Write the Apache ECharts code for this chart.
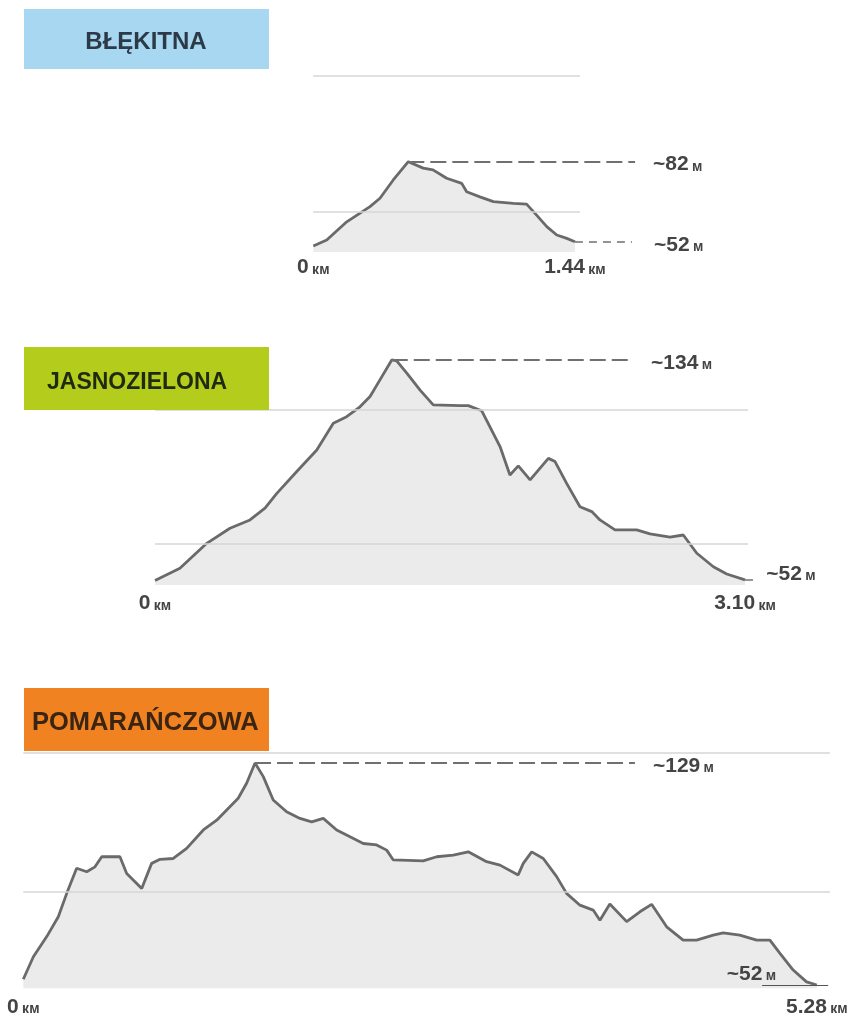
<!DOCTYPE html>
<html><head><meta charset="utf-8">
<script src="https://cdn.jsdelivr.net/npm/echarts@6/dist/echarts.min.js"></script>
<style>html,body{margin:0;padding:0;background:#fff}#c{width:865px;height:1021px}</style>
</head><body><div id="c"></div>
<script>
// ---- data ----
const trailNames = ['BŁĘKITNA', 'JASNOZIELONA', 'POMARAŃCZOWA'];
const trailLengths = [1.44, 3.10, 5.28];
const peakLabels = ['~82', '~134', '~129'];
const endLabels = ['~52', '~52', '~52'];

const blueKm = [0, 0.074, 0.184, 0.312, 0.367, 0.440, 0.523, 0.605, 0.659, 0.734, 0.817, 0.844, 0.917, 0.991, 1.101, 1.174, 1.229, 1.285, 1.340, 1.395, 1.44];
const blueM  = [52, 54.1, 60.6, 66.0, 69.0, 75.5, 82, 79.7, 79.1, 76.1, 74.3, 71.3, 69.5, 67.8, 67.2, 66.9, 63.0, 58.9, 55.9, 54.7, 53.5];

const greenKm = [0, 0.131, 0.272, 0.394, 0.499, 0.578, 0.640, 0.745, 0.850, 0.937, 1.007, 1.077, 1.130, 1.182, 1.244, 1.270, 1.323, 1.393, 1.462, 1.603, 1.646, 1.717, 1.813, 1.865, 1.909, 1.971, 2.067, 2.102, 2.163, 2.233, 2.295, 2.338, 2.417, 2.531, 2.601, 2.706, 2.776, 2.847, 2.934, 3.004, 3.10];
const greenM  = [52, 56.5, 65.8, 71.4, 74.5, 78.9, 84.4, 92.5, 100.5, 110.5, 112.9, 116.6, 120.4, 126.6, 134, 133.7, 129.1, 122.8, 117.3, 117.0, 117.0, 115.1, 101.8, 91.2, 94.6, 89.4, 97.4, 96.2, 88.1, 79.4, 77.6, 74.5, 70.8, 70.8, 69.3, 68.1, 68.9, 62.1, 57.1, 54.4, 52.2];

const orangeKm = [0, 0.067, 0.156, 0.233, 0.289, 0.355, 0.422, 0.477, 0.522, 0.643, 0.688, 0.788, 0.854, 0.910, 0.998, 1.087, 1.198, 1.287, 1.430, 1.486, 1.542, 1.597, 1.663, 1.752, 1.841, 1.919, 1.996, 2.085, 2.174, 2.262, 2.351, 2.418, 2.462, 2.661, 2.751, 2.861, 2.961, 3.083, 3.172, 3.293, 3.327, 3.383, 3.460, 3.549, 3.615, 3.704, 3.792, 3.837, 3.903, 4.015, 4.103, 4.181, 4.281, 4.391, 4.480, 4.591, 4.657, 4.768, 4.880, 4.968, 5.035, 5.123, 5.212, 5.28];
const orangeM  = [54.0, 61.8, 68.8, 75.7, 83.8, 92.5, 91.3, 93.0, 96.5, 96.5, 90.7, 85.5, 94.2, 95.6, 95.9, 99.4, 105.8, 109.2, 116.8, 122.0, 129, 124.3, 116.2, 112.1, 109.8, 108.6, 109.8, 105.8, 103.4, 101.1, 100.6, 98.8, 95.4, 95.1, 96.5, 97.1, 98.2, 94.8, 93.6, 90.2, 94.2, 98.2, 95.9, 89.6, 83.8, 79.7, 78.0, 74.5, 80.1, 74.0, 77.4, 80.0, 72.2, 67.6, 67.6, 69.3, 70.1, 69.3, 67.6, 67.6, 63.0, 57.2, 53.1, 52];

// horizontal guide lines (m) per profile
const guideLevels = [[64.3, 112.5], [65.6, 115.4], [84.4, 132.6]];

// ---- layout (positions / styles) ----
const layout = [
  {left: 313.3, top: 76, width: 323.4, height: 176, xMax: 1.78, yMin: 49.86, yMax: 112.5, guideEnd: 1.468, peakEnd: 1.771, endTo: 1.754, labelMargin: 5, box: [24, 9, 245, 60], boxColor: '#a7d7f1', textColor: '#2c3a48', textX: 146, textAlign: 'center', fontSize: 24, textDy: 3},
  {left: 155, top: 354.6, width: 609, height: 230.4, xMax: 3.2, yMin: 50.3, yMax: 136, guideEnd: 3.116, peakEnd: 2.512, endTo: 3.17, labelMargin: 8, box: [24, 347, 245, 63], boxColor: '#b4cc1c', textColor: '#1f2a12', textX: 47, textAlign: 'left', fontSize: 23, textDy: 4},
  {left: 23.3, top: 752.7, width: 807, height: 235.6, xMax: 5.37, yMin: 50.86, yMax: 132.6, guideEnd: 5.367, peakEnd: 4.070, endTo: 5.356, labelMargin: 8, box: [24, 688, 245, 63], boxColor: '#f08222', textColor: '#3a2412', textX: 32, textAlign: 'left', fontSize: 25.5, textDy: 3}
];

const profiles = [[blueKm, blueM], [greenKm, greenM], [orangeKm, orangeM]];
const FONT = '"Liberation Sans", Arial, sans-serif';
const rich = {
  n: {fontFamily: FONT, fontWeight: 'bold', fontSize: 21, color: '#444444'},
  u: {fontFamily: FONT, fontWeight: 'bold', fontSize: 14, color: '#444444', padding: [5, 0, 0, 0]}
};

const grids = [], xAxes = [], yAxes = [], series = [], graphics = [];
profiles.forEach((p, i) => {
  const L = layout[i];
  const km = p[0], m = p[1];
  const data = km.map((k, j) => [k, m[j]]);
  let peakIdx = 0; m.forEach((v, j) => { if (v > m[peakIdx]) peakIdx = j; });
  const last = data.length - 1;
  grids.push({left: L.left, top: L.top, width: L.width, height: L.height});
  xAxes.push({
    type: 'value', gridIndex: i, min: 0, max: L.xMax,
    axisLine: {show: false}, axisTick: {show: false}, splitLine: {show: false},
    axisLabel: {
      customValues: [0, trailLengths[i]], margin: L.labelMargin,
      formatter: v => '{n|' + (v === 0 ? '0' : v.toFixed(2)) + '} {u|км}', rich: rich
    }
  });
  yAxes.push({type: 'value', gridIndex: i, min: L.yMin, max: L.yMax, show: false, splitLine: {show: false}});

  const guideLines = guideLevels[i].map(lv => [
    {coord: [0, lv], lineStyle: {color: '#d6d6d6', width: 1.6, type: 'solid'}, label: {show: false}},
    {coord: [L.guideEnd, lv]}
  ]);
  const peakLine = [
    {coord: data[peakIdx], lineStyle: {color: '#707070', width: 2, type: [16, 6]},
     label: {show: true, position: 'end', distance: 18, offset: [0, 3], formatter: '{n|' + peakLabels[i] + '} {u|м}', rich: rich}},
    {coord: [L.peakEnd, m[peakIdx]]}
  ];
  let endLine;
  if (i === 2) {
    endLine = [
      {coord: [L.endTo - 0.44, 52], lineStyle: {color: '#555', width: 1.2, type: 'solid'},
       label: {show: true, position: 'start', distance: -14, offset: [0, -11], formatter: '{n|' + endLabels[i] + '} {u|м}', rich: rich}},
      {coord: [L.endTo, 52]}
    ];
  } else {
    endLine = [
      {coord: data[last], lineStyle: {color: '#707070', width: 1.5, type: [8, 6]},
       label: {show: true, position: 'end', distance: i === 0 ? 22 : 8, offset: [0, i === 1 ? -6 : 3], formatter: '{n|' + endLabels[i] + '} {u|м}', rich: rich}},
      {coord: [L.endTo, m[last]]}
    ];
  }
  series.push({
    type: 'line', xAxisIndex: i, yAxisIndex: i, data: data,
    showSymbol: false, symbol: 'none', smooth: false, clip: false,
    lineStyle: {color: '#6a6a6a', width: 2.8},
    areaStyle: {color: '#ebebeb', opacity: 1},
    markLine: {silent: true, symbol: 'none', animation: false, data: guideLines.concat([peakLine, endLine])},
    z: 2
  });
  graphics.push({type: 'rect', shape: {x: L.box[0], y: L.box[1], width: L.box[2], height: L.box[3]}, style: {fill: L.boxColor}, z: 100});
  graphics.push({type: 'text', x: L.textX, y: L.box[1] + L.box[3] / 2 + L.textDy, z: 101,
    style: {text: trailNames[i], fill: L.textColor, font: 'bold ' + L.fontSize + 'px "Liberation Sans", Arial, sans-serif', textAlign: L.textAlign, textVerticalAlign: 'middle'}});
});

const chart = echarts.init(document.getElementById('c'), null, {renderer: 'canvas'});
chart.setOption({
  animation: false,
  grid: grids, xAxis: xAxes, yAxis: yAxes, series: series,
  graphic: graphics
});
</script></body></html>
